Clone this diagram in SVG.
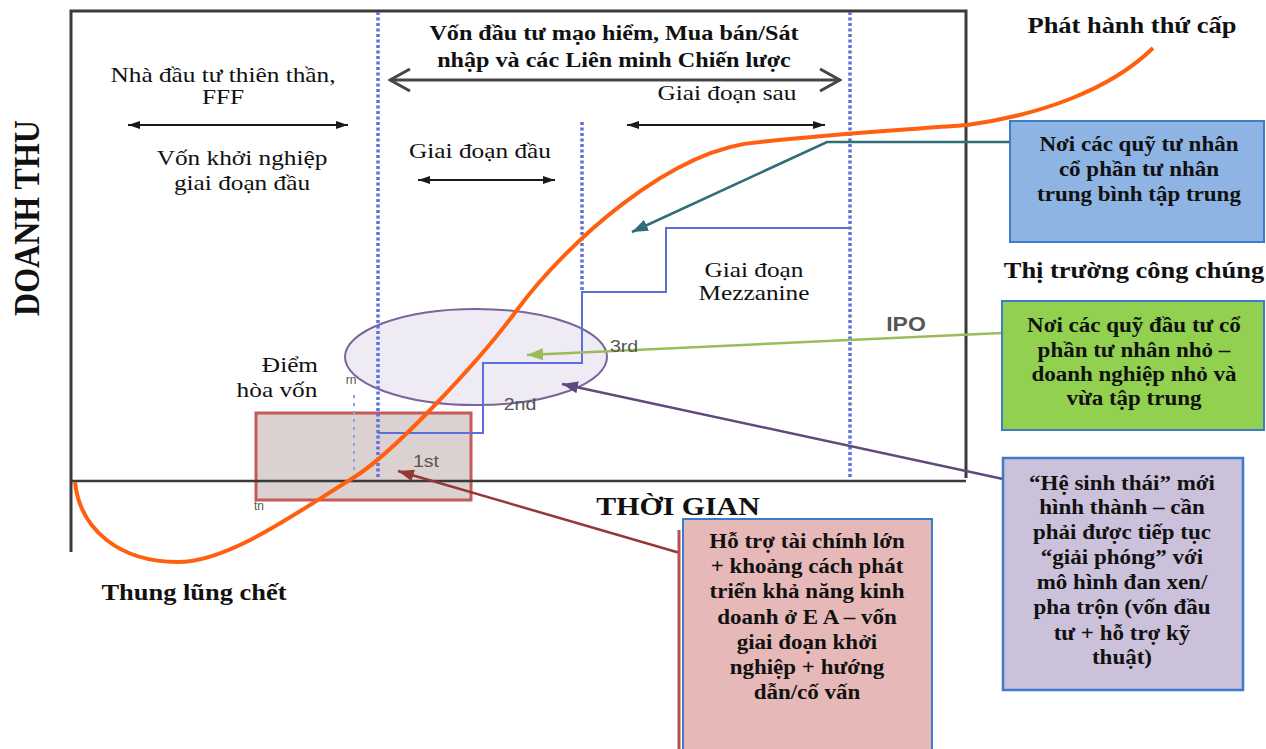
<svg xmlns="http://www.w3.org/2000/svg" width="1266" height="749" viewBox="0 0 1266 749">
<defs>
<style>
.sx{transform-box:fill-box;transform-origin:center;transform:scaleX(1.15)}
.serif{font-family:"Liberation Serif","Times New Roman",serif;fill:#111}
.reg{font-size:22px;text-anchor:middle}
.bold{font-weight:bold;text-anchor:middle}
.box{font-family:"Liberation Serif","Times New Roman",serif;font-weight:bold;font-size:20px;text-anchor:middle;fill:#111}
.sans{font-family:"Liberation Sans",Arial,sans-serif;fill:#555;text-anchor:middle}
.frame{stroke:#3a3a3a;stroke-width:3;fill:none}
.dot{stroke:#5c70e0;stroke-width:3.5;stroke-dasharray:3 2.5;fill:none}
.blk{stroke:#1a1a1a;stroke-width:2;fill:none}
</style>
<marker id="ahK" viewBox="0 0 12 8" refX="12" refY="4" markerWidth="12" markerHeight="8" markerUnits="userSpaceOnUse" orient="auto-start-reverse"><path d="M0,0L12,4L0,8z" fill="#1a1a1a"/></marker>
<marker id="chev" viewBox="0 0 24 24" refX="22" refY="12" markerWidth="24" markerHeight="24" markerUnits="userSpaceOnUse" orient="auto-start-reverse"><path d="M2,1L22,12L2,23" fill="none" stroke="#454545" stroke-width="3"/></marker>
<marker id="ahT" viewBox="0 0 16 12" refX="16" refY="6" markerWidth="16" markerHeight="12" markerUnits="userSpaceOnUse" orient="auto"><path d="M0,0L16,6L0,12z" fill="#2f6e78"/></marker>
<marker id="ahG" viewBox="0 0 16 12" refX="16" refY="6" markerWidth="16" markerHeight="12" markerUnits="userSpaceOnUse" orient="auto"><path d="M0,0L16,6L0,12z" fill="#9bbb59"/></marker>
<marker id="ahP" viewBox="0 0 16 12" refX="16" refY="6" markerWidth="16" markerHeight="12" markerUnits="userSpaceOnUse" orient="auto"><path d="M0,0L16,6L0,12z" fill="#604a7b"/></marker>
<marker id="ahR" viewBox="0 0 16 12" refX="16" refY="6" markerWidth="16" markerHeight="12" markerUnits="userSpaceOnUse" orient="auto"><path d="M0,0L16,6L0,12z" fill="#953735"/></marker>
</defs>
<rect width="1266" height="749" fill="#ffffff"/>

<g id="chart">
<rect id="startup-zone" x="256" y="413" width="215" height="87" fill="#dbd1d1" stroke="#c55a57" stroke-width="3"/>
<ellipse id="sme-zone" cx="476" cy="357" rx="131" ry="48" fill="#eeebf4" stroke="#7a6499" stroke-width="2"/>
<path class="frame" d="M71,552V11H966V478"/>
<line x1="70" y1="481" x2="966" y2="481" stroke="#3a3a3a" stroke-width="2.5"/>
<line class="dot" x1="378" y1="12" x2="378" y2="478"/>
<line class="dot" x1="850" y1="12" x2="850" y2="478"/>
<line class="dot" x1="582" y1="122" x2="582" y2="292"/>
<line x1="354" y1="395" x2="354" y2="478" stroke="#8d9de6" stroke-width="2" stroke-dasharray="3 5"/>
<path d="M378,433H483V363H582V292H666V228H850" fill="none" stroke="#5a6fdc" stroke-width="2"/>
<path id="revenue-curve" d="M75,482C80,530 120,562 178,562C230,562 300,510 353,478C395,452 480,360 517,310C565,245 670,148 760,142C830,134 900,130 967,125C1040,115 1110,90 1153,48" fill="none" stroke="#ff6010" stroke-width="4"/>
</g>

<g id="connectors">
<line class="blk" x1="128" y1="125" x2="348" y2="125" marker-start="url(#ahK)" marker-end="url(#ahK)"/>
<line x1="390" y1="80" x2="840" y2="80" stroke="#454545" stroke-width="3" marker-start="url(#chev)" marker-end="url(#chev)"/>
<line class="blk" x1="627" y1="125" x2="825" y2="125" marker-start="url(#ahK)" marker-end="url(#ahK)"/>
<line class="blk" x1="418" y1="180" x2="555" y2="180" marker-start="url(#ahK)" marker-end="url(#ahK)"/>
<polyline points="1010,142 827,142 632,232" fill="none" stroke="#2f6e78" stroke-width="2.5" marker-end="url(#ahT)"/>
<line x1="1002" y1="333" x2="527" y2="355" stroke="#9bbb59" stroke-width="2.5" marker-end="url(#ahG)"/>
<line x1="1003" y1="479" x2="562" y2="384" stroke="#604a7b" stroke-width="2.5" marker-end="url(#ahP)"/>
<line x1="680" y1="553" x2="398" y2="471" stroke="#953735" stroke-width="2.5" marker-end="url(#ahR)"/>
</g>

<g id="labels">
<g class="sx serif reg"><text x="223" y="82">Nhà đầu tư thiên thần,</text><text x="223" y="104">FFF</text></g>
<g class="sx serif reg"><text x="242" y="165">Vốn khởi nghiệp</text><text x="242" y="190">giai đoạn đầu</text></g>
<g class="sx serif bold" font-size="21"><text x="614" y="40">Vốn đầu tư mạo hiểm, Mua bán/Sát</text><text x="614" y="67">nhập và các Liên minh Chiến lược</text></g>
<text class="sx serif reg" x="727" y="100">Giai đoạn sau</text>
<text class="sx serif reg" x="480" y="158">Giai đoạn đầu</text>
<g class="sx serif reg"><text x="754" y="277">Giai đoạn</text><text x="754" y="300">Mezzanine</text></g>
<text class="sx serif bold" font-size="23" x="1132" y="33">Phát hành thứ cấp</text>
<text class="sx serif bold" font-size="23" x="1134" y="278">Thị trường công chúng</text>
<text class="sx serif bold" font-size="26" x="678" y="515">THỜI GIAN</text>
<text class="sx serif bold" font-size="23" x="194" y="600">Thung lũng chết</text>
<text class="sx serif reg" x="290" y="372">Điểm</text>
<text class="sx serif reg" x="277" y="397">hòa vốn</text>
<g class="sx"><text class="serif bold" font-size="32" transform="translate(37,218) rotate(-90)">DOANH THU</text></g>
<text class="sx sans" font-size="20" font-weight="bold" x="906" y="331" fill="#606060">IPO</text>
<text class="sx sans" font-size="17" x="426" y="467">1st</text>
<text class="sx sans" font-size="17" x="520" y="410">2nd</text>
<text class="sx sans" font-size="17" x="624" y="352">3rd</text>
<text class="sans" font-size="12" x="351" y="384" fill="#888">rn</text>
<text class="sans" font-size="12" x="259" y="510" fill="#888">tn</text>
</g>

<g id="node-mid-pe">
<rect x="1010" y="121" width="254" height="121" fill="#8eb4e3" stroke="#3d7cc9" stroke-width="2"/>
<g class="sx box"><text x="1139" y="151">Nơi các quỹ tư nhân</text><text x="1139" y="176">cổ phần tư nhân</text><text x="1139" y="201">trung bình tập trung</text></g>
</g>
<g id="node-small-pe">
<rect x="1002" y="301" width="262" height="129" fill="#92d050" stroke="#3d7cc9" stroke-width="2"/>
<g class="sx box"><text x="1134" y="332">Nơi các quỹ đầu tư cổ</text><text x="1134" y="357">phần tư nhân nhỏ –</text><text x="1134" y="381">doanh nghiệp nhỏ và</text><text x="1134" y="405">vừa tập trung</text></g>
</g>
<g id="node-ecosystem">
<rect x="1003" y="458" width="240" height="232" fill="#ccc1da" stroke="#3d7cc9" stroke-width="2.5"/>
<g class="sx box"><text x="1122" y="490">“Hệ sinh thái” mới</text><text x="1122" y="514">hình thành – cần</text><text x="1122" y="539">phải được tiếp tục</text><text x="1122" y="564">“giải phóng” với</text><text x="1122" y="589">mô hình đan xen/</text><text x="1122" y="614">pha trộn (vốn đầu</text><text x="1122" y="640">tư + hỗ trợ kỹ</text><text x="1122" y="664">thuật)</text></g>
</g>
<g id="node-finance">
<line x1="679" y1="530" x2="679" y2="749" stroke="#b5524f" stroke-width="3"/>
<rect x="683" y="519" width="249" height="240" fill="#e6b9b8" stroke="#3d7cc9" stroke-width="2"/>
<g class="sx box"><text x="807" y="548">Hỗ trợ tài chính lớn</text><text x="807" y="573">+ khoảng cách phát</text><text x="807" y="598">triển khả năng kinh</text><text x="807" y="624">doanh ở E A – vốn</text><text x="807" y="649">giai đoạn khởi</text><text x="807" y="674">nghiệp + hướng</text><text x="807" y="699">dẫn/cố vấn</text></g>
</g>
</svg>
